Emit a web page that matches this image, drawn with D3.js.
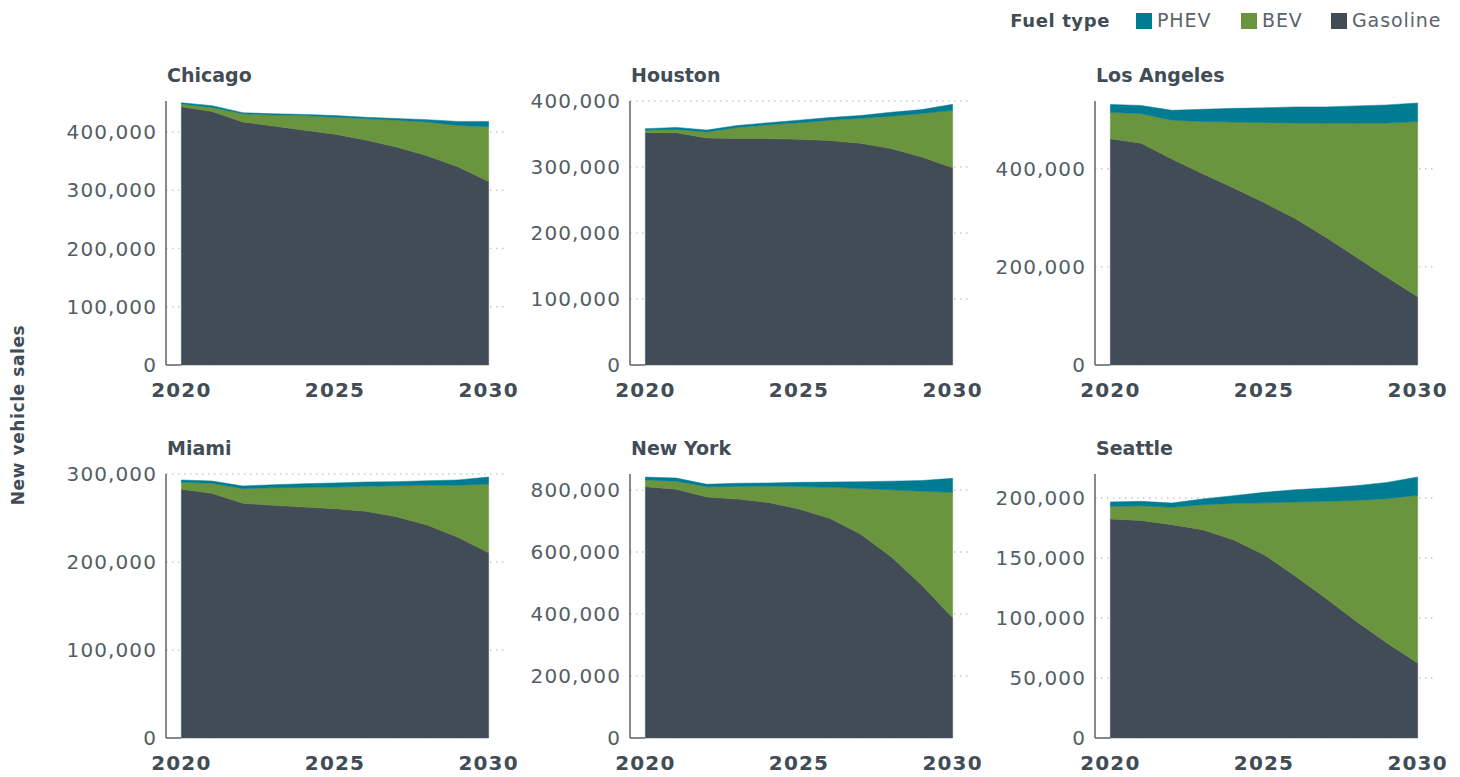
<!DOCTYPE html>
<html>
<head>
<meta charset="utf-8">
<script src="https://cdn.jsdelivr.net/npm/d3@7"></script>
<style>
  body { margin: 0; background: #fff; }
  svg { display: block; font-family: 'DejaVu Sans', sans-serif; }
</style>
</head>
<body>
<div id="chart"></div>
<script>
/* ===== Data ===== */
const years = [2020, 2021, 2022, 2023, 2024, 2025, 2026, 2027, 2028, 2029, 2030];
const cities = ['Chicago', 'Houston', 'Los Angeles', 'Miami', 'New York', 'Seattle'];
const fuelTypes = ['PHEV', 'BEV', 'Gasoline'];

// sales by city (same order as cities), one value per year
const gasolineSales = [
  [443000, 435000, 417000, 410000, 403000, 396000, 386000, 374000, 359000, 340000, 315000],
  [352000, 352000, 344000, 343000, 343000, 342000, 340000, 336000, 328000, 315000, 299000],
  [461000, 452000, 420000, 390000, 361000, 331000, 299000, 261000, 220000, 179000, 139000],
  [282600, 278000, 266700, 264400, 262500, 260600, 257600, 251500, 242000, 228000, 210600],
  [811000, 803000, 778000, 771000, 760000, 739000, 709000, 658000, 585000, 493000, 388000],
  [182500, 181300, 177800, 173600, 165300, 152800, 135300, 116700, 97200, 79200, 62500]
];
const bevSales = [
  [5000, 7000, 14000, 19000, 25000, 29000, 37000, 46000, 58000, 71000, 94000],
  [4000, 5000, 9000, 17000, 21000, 25000, 31000, 38000, 49000, 66000, 87000],
  [54000, 60000, 79000, 106000, 134000, 163000, 194000, 232000, 273000, 314000, 357000],
  [7900, 11400, 16600, 20000, 22300, 24600, 28400, 35200, 45200, 59200, 78000],
  [22000, 26000, 33000, 41000, 53000, 73000, 100000, 147000, 216000, 303000, 405000],
  [10500, 12300, 14400, 20800, 30200, 43200, 61400, 80500, 100800, 120200, 139700]
];
const phevSales = [
  [2000, 3000, 2000, 2000, 2000, 3000, 2000, 3000, 4000, 7000, 9000],
  [2000, 3000, 3000, 3000, 3000, 4000, 4000, 4000, 6000, 6000, 9000],
  [16000, 17000, 20000, 25000, 28000, 30000, 33000, 33000, 35000, 37000, 38000],
  [2700, 2600, 3100, 3400, 4200, 4600, 4900, 4600, 5200, 6000, 8000],
  [9000, 10000, 8000, 10000, 10000, 13000, 17000, 22000, 28000, 35000, 45000],
  [3700, 3600, 3600, 4800, 6400, 8700, 10200, 11100, 12300, 13600, 15300]
];

// y-axis limits and ticks per city
const yMax = [453000, 400000, 538000, 300000, 852000, 220000];
const yTicks = [
  [0, 100000, 200000, 300000, 400000],
  [0, 100000, 200000, 300000, 400000],
  [0, 200000, 400000],
  [0, 100000, 200000, 300000],
  [0, 200000, 400000, 600000, 800000],
  [0, 50000, 100000, 150000, 200000]
];
const xTicks = [2020, 2025, 2030];

const colors = { PHEV: '#007c92', BEV: '#6a943d', Gasoline: '#414c56' };
const textColor = '#414c56';
const tickColor = '#535d66';

/* ===== Layout ===== */
const W = 1460, H = 777;
const colX = [166, 630, 1095];
const rowTop = [101, 474];
const plotW = 338;
const plotH = 264;

const svg = d3.select('#chart').append('svg')
  .attr('width', W)
  .attr('height', H);

/* ---- Panels ---- */
cities.forEach((city, i) => {
  const col = i % 3, row = Math.floor(i / 3);
  const g = svg.append('g')
    .attr('transform', `translate(${colX[col]},${rowTop[row]})`);

  const x = d3.scaleLinear()
    .domain([2019.5, 2030.5])
    .range([0, plotW]);

  const y = d3.scaleLinear()
    .domain([0, yMax[i]])
    .range([plotH, 0]);

  // Grid
  g.selectAll('.grid')
    .data(yTicks[i].filter(d => d > 0))
    .join('line')
    .attr('x1', 0).attr('x2', plotW)
    .attr('y1', d => y(d)).attr('y2', d => y(d))
    .attr('stroke', '#c9c9c9')
    .attr('stroke-width', 1.5)
    .attr('stroke-dasharray', '1.5,4.5');

  // Stacked areas
  const rows = years.map((yr, k) => ({
    year: yr,
    Gasoline: gasolineSales[i][k],
    BEV: bevSales[i][k],
    PHEV: phevSales[i][k]
  }));
  const series = d3.stack().keys(['Gasoline', 'BEV', 'PHEV'])(rows);

  const area = d3.area()
    .x(d => x(d.data.year))
    .y0(d => y(d[0]))
    .y1(d => y(d[1]));

  g.selectAll('.layer')
    .data(series)
    .join('path')
    .attr('fill', d => colors[d.key])
    .attr('stroke', d => colors[d.key])
    .attr('stroke-width', 0.5)
    .attr('d', area);

  // Axis lines
  g.append('line')
    .attr('x1', 0).attr('x2', 0)
    .attr('y1', 0).attr('y2', plotH)
    .attr('stroke', '#5f6367')
    .attr('stroke-width', 1.5);
  g.append('line')
    .attr('x1', 0).attr('x2', x(2020))
    .attr('y1', plotH).attr('y2', plotH)
    .attr('stroke', '#5f6367')
    .attr('stroke-width', 1.5);

  // Y labels
  g.selectAll('.y-label')
    .data(yTicks[i])
    .join('text')
    .attr('x', -9)
    .attr('y', d => y(d))
    .attr('dy', '0.36em')
    .attr('text-anchor', 'end')
    .attr('fill', tickColor)
    .attr('font-size', '20px')
    .attr('letter-spacing', '1.1px')
    .text(d => d3.format(',')(d));

  // X labels
  g.selectAll('.x-label')
    .data(xTicks)
    .join('text')
    .attr('x', d => x(d))
    .attr('y', plotH + 32)
    .attr('text-anchor', 'middle')
    .attr('fill', textColor)
    .attr('font-size', '20px')
    .attr('font-weight', 'bold')
    .attr('letter-spacing', '1.2px')
    .text(d => d);

  // Title
  g.append('text')
    .attr('x', 1)
    .attr('y', -19)
    .attr('fill', textColor)
    .attr('font-size', '19px')
    .attr('font-weight', 'bold')
    .text(city);
});

/* ---- Y axis title ---- */
svg.append('text')
  .attr('transform', 'translate(24,415) rotate(-90)')
  .attr('text-anchor', 'middle')
  .attr('fill', textColor)
  .attr('font-size', '17px')
  .attr('font-weight', 'bold')
  .attr('letter-spacing', '0.6px')
  .text('New vehicle sales');

/* ---- Legend ---- */
const legend = svg.append('g');
legend.append('text')
  .attr('x', 1110).attr('y', 27)
  .attr('text-anchor', 'end')
  .attr('fill', textColor)
  .attr('font-size', '18px')
  .attr('font-weight', 'bold')
  .attr('letter-spacing', '0.6px')
  .text('Fuel type');

const legendX = [1136, 1241, 1331];
fuelTypes.forEach((f, k) => {
  legend.append('rect')
    .attr('x', legendX[k]).attr('y', 13)
    .attr('width', 16).attr('height', 16)
    .attr('fill', colors[f]);
  legend.append('text')
    .attr('x', legendX[k] + 21).attr('y', 27)
    .attr('fill', '#5a636b')
    .attr('font-size', '19px')
    .attr('letter-spacing', '0.9px')
    .text(f);
});
</script>
</body>
</html>
